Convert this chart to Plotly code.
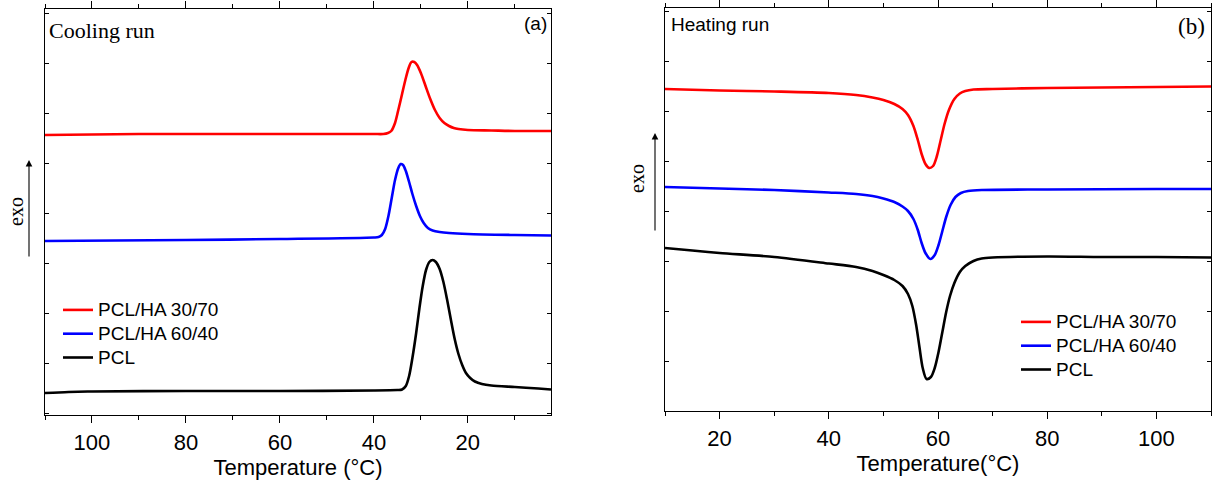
import plotly.graph_objects as go

# ---------------- DSC data (heat flow, arbitrary units, curves offset) ----------------
# Cooling run
cool_t_3070 = [110, 90, 70, 50, 40, 38, 37, 36.3, 35.5, 34.8, 34.0, 33.3, 32.6, 32.0, 31.4,
               30.8, 30.0, 29.0, 28.0, 27.0, 26.0, 25.0, 24.0, 23.0, 22.0, 20.0, 15.0, 10.0, 2.3]
cool_hf_3070 = [27.8, 27.9, 27.9, 27.9, 27.9, 27.9, 28.0, 28.2, 29.0, 30.3, 31.9, 33.3, 34.5, 35.1, 35.1,
                34.8, 34.0, 32.7, 31.4, 30.3, 29.5, 29.0, 28.7, 28.5, 28.4, 28.3, 28.25, 28.2, 28.2]

cool_t_6040 = [110, 80, 60, 40, 39, 38.3, 37.6, 36.9, 36.2, 35.5, 34.8, 34.3, 33.8, 33.2, 32.5,
               31.8, 31.0, 30.2, 29.4, 28.5, 27.5, 26, 24, 20, 10, 2.3]
cool_hf_6040 = [17.2, 17.3, 17.4, 17.55, 17.6, 17.8, 18.4, 19.7, 21.5, 23.3, 24.5, 24.9, 24.8, 24.2, 23.1,
                21.9, 20.7, 19.7, 19.0, 18.5, 18.25, 18.1, 18.0, 17.9, 17.8, 17.75]

cool_t_pcl = [110, 105, 100, 80, 60, 40, 35, 34, 33.2, 32.5, 31.8, 31.0, 30.3, 29.6, 28.9, 28.2,
              27.5, 26.8, 26.0, 25.2, 24.4, 23.6, 22.8, 22.0, 21.2, 20.4, 19.5, 18.5, 17, 15, 10, 5, 2.3]
cool_hf_pcl = [2.0, 2.1, 2.15, 2.2, 2.2, 2.25, 2.3, 2.35, 2.7, 3.7, 5.5, 8.0, 10.5, 12.7, 14.3, 15.1,
               15.3, 15.1, 14.4, 13.1, 11.3, 9.3, 7.4, 5.9, 4.8, 4.0, 3.5, 3.15, 2.9, 2.75, 2.6, 2.45, 2.35]

# Heating run
heat_t_3070 = [10, 20, 30, 40, 45, 48, 50, 52, 53.5, 54.5, 55.5, 56.3, 57.0, 57.7, 58.4, 59.1, 59.8,
               60.5, 61.2, 62.0, 63.0, 64.0, 65.0, 66.5, 70, 80, 90, 100, 110]
heat_hf_3070 = [32.2, 32.05, 31.95, 31.8, 31.6, 31.35, 31.1, 30.7, 30.2, 29.6, 28.5, 27.1, 25.7, 24.7, 24.3,
                24.5, 25.5, 27.1, 28.7, 30.1, 31.2, 31.75, 32.0, 32.15, 32.2, 32.3, 32.35, 32.4, 32.45]

heat_t_6040 = [10, 20, 30, 40, 45, 48, 50, 52, 53.5, 54.5, 55.5, 56.3, 57.0, 57.7, 58.6, 59.4, 60.1,
               60.8, 61.5, 62.3, 63.2, 64.2, 65.5, 68, 80, 100, 110]
heat_hf_6040 = [22.4, 22.25, 22.1, 21.85, 21.7, 21.5, 21.25, 20.9, 20.45, 20.0, 19.2, 18.1, 16.8, 15.8, 15.2,
                15.6, 16.6, 18.0, 19.4, 20.6, 21.4, 21.8, 22.0, 22.1, 22.15, 22.2, 22.2]

heat_t_pcl = [10, 15, 20, 30, 40, 45, 48, 50, 52, 53.5, 54.5, 55.3, 56.0, 56.6, 57.2, 57.9, 58.7, 59.4,
              60.1, 60.8, 61.5, 62.2, 63.0, 64.0, 65.0, 66.5, 68, 70, 80, 90, 100, 110]
heat_hf_pcl = [16.3, 16.05, 15.8, 15.4, 14.75, 14.4, 14.0, 13.6, 13.1, 12.5, 11.7, 10.5, 8.6, 6.4, 4.3, 3.2,
               3.4, 4.3, 5.9, 7.9, 9.9, 11.5, 12.8, 13.9, 14.5, 15.0, 15.25, 15.35, 15.45, 15.4, 15.4, 15.35]

series_names = ["PCL/HA 30/70", "PCL/HA 60/40", "PCL"]
series_colors = ["#ff0000", "#0000ff", "#000000"]

tick_labels_cool = ["100", "80", "60", "40", "20"]
tick_vals_cool = [100, 80, 60, 40, 20]
tick_labels_heat = ["20", "40", "60", "80", "100"]
tick_vals_heat = [20, 40, 60, 80, 100]

W, H = 1212, 484
SANS = "Liberation Sans, Arial, sans-serif"
SERIF = "Liberation Serif, Times New Roman, serif"

# legend rows are laid out with a small base font so entries sit close together;
# the entry text itself is drawn larger
LEGEND_TEXT = '<span style="font-size:19px">{}</span>'

fig = go.Figure()

cool_sets = [(cool_t_3070, cool_hf_3070), (cool_t_6040, cool_hf_6040), (cool_t_pcl, cool_hf_pcl)]
heat_sets = [(heat_t_3070, heat_hf_3070), (heat_t_6040, heat_hf_6040), (heat_t_pcl, heat_hf_pcl)]

for (t, hf), name, col in zip(cool_sets, series_names, series_colors):
    fig.add_trace(go.Scatter(x=t, y=hf, name=LEGEND_TEXT.format(name), mode="lines",
                             line=dict(color=col, width=2.6, shape="spline", smoothing=0.8),
                             xaxis="x", yaxis="y", legend="legend"))
for (t, hf), name, col in zip(heat_sets, series_names, series_colors):
    fig.add_trace(go.Scatter(x=t, y=hf, name=LEGEND_TEXT.format(name), mode="lines",
                             line=dict(color=col, width=2.6, shape="spline", smoothing=0.8),
                             xaxis="x2", yaxis="y2", legend="legend2"))


def px_x(p):
    return p / W


def px_y(p):
    return 1 - p / H


xaxis_common = dict(
    showline=True, linecolor="black", linewidth=1.3, mirror="ticks",
    ticks="outside", ticklen=7, tickwidth=1.2, tickcolor="black",
    minor=dict(ticks="outside", ticklen=4, tickwidth=1.2, tickcolor="black", dtick=10),
    showgrid=False, zeroline=False,
    tickfont=dict(family=SANS, size=22, color="black"),
    title_font=dict(family=SANS, size=22, color="black"),
)
yaxis_common = dict(
    showline=True, linecolor="black", linewidth=1.3, mirror="ticks",
    ticks="inside", ticklen=4, tickwidth=1.2, tickcolor="black",
    dtick=5, tick0=0, showticklabels=False,
    showgrid=False, zeroline=False,
)

legend_common = dict(xanchor="left", yanchor="top", bgcolor="rgba(0,0,0,0)",
                     font=dict(family=SANS, size=16, color="black"),
                     tracegroupgap=0, itemwidth=30)

fig.update_layout(
    width=W, height=H,
    margin=dict(l=0, r=0, t=0, b=0),
    plot_bgcolor="white", paper_bgcolor="white",
    xaxis=dict(domain=[px_x(45), px_x(551)], range=[110, 2.3], anchor="y",
               tickvals=tick_vals_cool, ticktext=tick_labels_cool,
               title=dict(text="Temperature (°C)", standoff=3), **xaxis_common),
    yaxis=dict(domain=[px_y(415), px_y(9)], range=[-0.2, 40.4], anchor="x", **yaxis_common),
    xaxis2=dict(domain=[px_x(665), px_x(1211)], range=[10, 110], anchor="y2",
                tickvals=tick_vals_heat, ticktext=tick_labels_heat,
                title=dict(text="Temperature(°C)", standoff=3), **xaxis_common),
    yaxis2=dict(domain=[px_y(411), px_y(8)], range=[0, 40.3], anchor="x2", **yaxis_common),
    legend=dict(x=px_x(58), y=px_y(293), **legend_common),
    legend2=dict(x=px_x(1016), y=px_y(305), **legend_common),
    showlegend=True,
)

annotations = [
    dict(text="Cooling run", x=px_x(47), y=px_y(30), xanchor="left", yanchor="middle",
         font=dict(family=SERIF, size=22, color="black")),
    dict(text="(a)", x=px_x(549), y=px_y(23), xanchor="right", yanchor="middle",
         font=dict(family=SANS, size=19, color="black")),
    dict(text="Heating run", x=px_x(669), y=px_y(25), xanchor="left", yanchor="middle",
         font=dict(family=SANS, size=19, color="black")),
    dict(text="(b)", x=px_x(1207), y=px_y(27), xanchor="right", yanchor="middle",
         font=dict(family=SERIF, size=23, color="black")),
    dict(text="exo", x=px_x(16), y=px_y(212), xanchor="center", yanchor="middle", textangle=-90,
         font=dict(family=SERIF, size=20, color="black")),
    dict(text="exo", x=px_x(637), y=px_y(178), xanchor="center", yanchor="middle", textangle=-90,
         font=dict(family=SERIF, size=20, color="black")),
    # exotherm direction arrows
    dict(text="", x=px_x(29), y=px_y(160), ax=0, ay=98, showarrow=True,
         arrowhead=2, arrowsize=1.2, arrowwidth=1.1, arrowcolor="black"),
    dict(text="", x=px_x(655), y=px_y(133), ax=0, ay=99, showarrow=True,
         arrowhead=2, arrowsize=1.2, arrowwidth=1.1, arrowcolor="black"),
]
for a in annotations:
    a.setdefault("xref", "paper")
    a.setdefault("yref", "paper")
    a.setdefault("showarrow", False)
fig.update_layout(annotations=annotations)

fig.write_html("out.html")
